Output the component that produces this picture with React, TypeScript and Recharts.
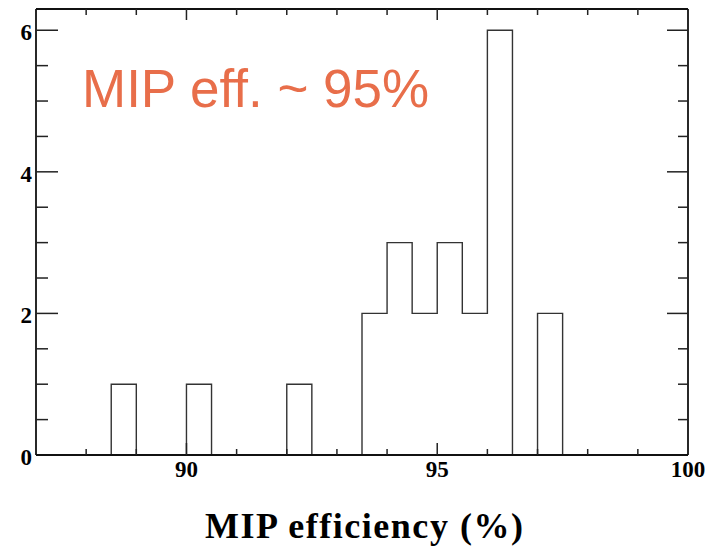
import React from "react";
import { ComposedChart, Line, XAxis, YAxis } from "recharts";

// Histogram outline: bin edges and bin heights (value held until next edge)
const binEdges = [87, 88.5, 89, 90, 90.5, 92, 92.5, 93.5, 94, 94.5, 95, 95.5, 96, 96.5, 97, 97.5, 100];
const binCounts = [0, 1, 0, 1, 0, 1, 0, 2, 3, 2, 3, 2, 6, 0, 2, 0, 0];

const xTicks = [88, 89, 90, 91, 92, 93, 94, 95, 96, 97, 98, 99, 100];
const xMajor = [90, 95, 100];
const yTicks = [0.5, 1, 1.5, 2, 2.5, 3, 3.5, 4, 4.5, 5, 5.5, 6];
const yMajor = [0, 2, 4, 6];
const yTicksAll = [0, ...yTicks];

const xTitle = "MIP efficiency (%)";
const note = "MIP eff. ~ 95%";

const data = binEdges.map((e, i) => ({ x: e, y: binCounts[i] }));

const serif = "'Liberation Serif', 'DejaVu Serif', serif";
const tickColor = "#222";

const LeftTick = (props: any) => {
  const { x, y, payload } = props;
  const v = payload.value;
  const major = yMajor.includes(v);
  return (
    <g>
      {v !== 0 && (
        <line x1={x} y1={y} x2={x + (major ? 22 : 12)} y2={y} stroke={tickColor} strokeWidth={1.5} />
      )}
      {major && (
        <text x={x - 4} y={y + 10} textAnchor="end" fontFamily={serif} fontWeight="bold" fontSize={23} fill="#000">
          {v}
        </text>
      )}
    </g>
  );
};

const RightTick = (props: any) => {
  const { x, y, payload } = props;
  const v = payload.value;
  const major = yMajor.includes(v);
  if (v === 0) return <g />;
  return <line x1={x} y1={y} x2={x - (major ? 21 : 10)} y2={y} stroke={tickColor} strokeWidth={1.5} />;
};

const BottomTick = (props: any) => {
  const { x, y, payload } = props;
  const v = payload.value;
  const major = xMajor.includes(v);
  return (
    <g>
      {v !== 100 && (
        <line x1={x} y1={y} x2={x} y2={y - (major ? 12 : 6)} stroke={tickColor} strokeWidth={1.5} />
      )}
      {major && (
        <text x={x} y={y + 22} textAnchor="middle" fontFamily={serif} fontWeight="bold" fontSize={23} fill="#000">
          {v}
        </text>
      )}
    </g>
  );
};

const TopTick = (props: any) => {
  const { x, y, payload } = props;
  const v = payload.value;
  const major = xMajor.includes(v);
  if (v === 100) return <g />;
  return <line x1={x} y1={y} x2={x} y2={y + (major ? 11 : 6)} stroke={tickColor} strokeWidth={1.5} />;
};

export default function App() {
  return (
    <div style={{ position: "absolute", left: 0, top: 0, width: 719, height: 546, background: "#fff" }}>
      <ComposedChart
        width={719}
        height={546}
        data={data}
        margin={{ top: 4, right: 21, bottom: 81, left: 26 }}
      >
        <XAxis
          dataKey="x"
          type="number"
          domain={[87, 100]}
          allowDataOverflow
          ticks={xTicks}
          interval={0}
          height={10}
          tickSize={0}
          tickMargin={0}
          tickLine={false}
          tick={<BottomTick />}
          axisLine={{ stroke: "#111", strokeWidth: 1.8 }}
        />
        <XAxis
          xAxisId="t"
          orientation="top"
          dataKey="x"
          type="number"
          domain={[87, 100]}
          allowDataOverflow
          ticks={xTicks}
          interval={0}
          height={5}
          tickSize={0}
          tickMargin={0}
          tickLine={false}
          tick={<TopTick />}
          axisLine={{ stroke: "#111", strokeWidth: 1.8 }}
        />
        <YAxis
          type="number"
          domain={[0, 6.3]}
          allowDataOverflow
          ticks={yTicksAll}
          interval={0}
          width={10}
          tickSize={0}
          tickMargin={0}
          tickLine={false}
          tick={<LeftTick />}
          axisLine={{ stroke: "#111", strokeWidth: 1.8 }}
        />
        <YAxis
          yAxisId="r"
          orientation="right"
          type="number"
          domain={[0, 6.3]}
          allowDataOverflow
          ticks={yTicksAll}
          interval={0}
          width={10}
          tickSize={0}
          tickMargin={0}
          tickLine={false}
          tick={<RightTick />}
          axisLine={{ stroke: "#111", strokeWidth: 1.8 }}
        />
        <Line
          dataKey="y"
          type="stepAfter"
          stroke="#333"
          strokeWidth={1.4}
          dot={false}
          activeDot={false}
          isAnimationActive={false}
        />
        <text
          x={82}
          y={107}
          fontFamily="'Liberation Sans', Arial, sans-serif"
          fontSize={53}
          fill="#E86E4A"
        >
          {note}
        </text>
        <text
          x={364}
          y={538}
          textAnchor="middle"
          fontFamily={serif}
          fontWeight="bold"
          fontSize={36}
          fill="#000"
          textLength={318}
          lengthAdjust="spacing"
        >
          {xTitle}
        </text>
      </ComposedChart>
    </div>
  );
}
